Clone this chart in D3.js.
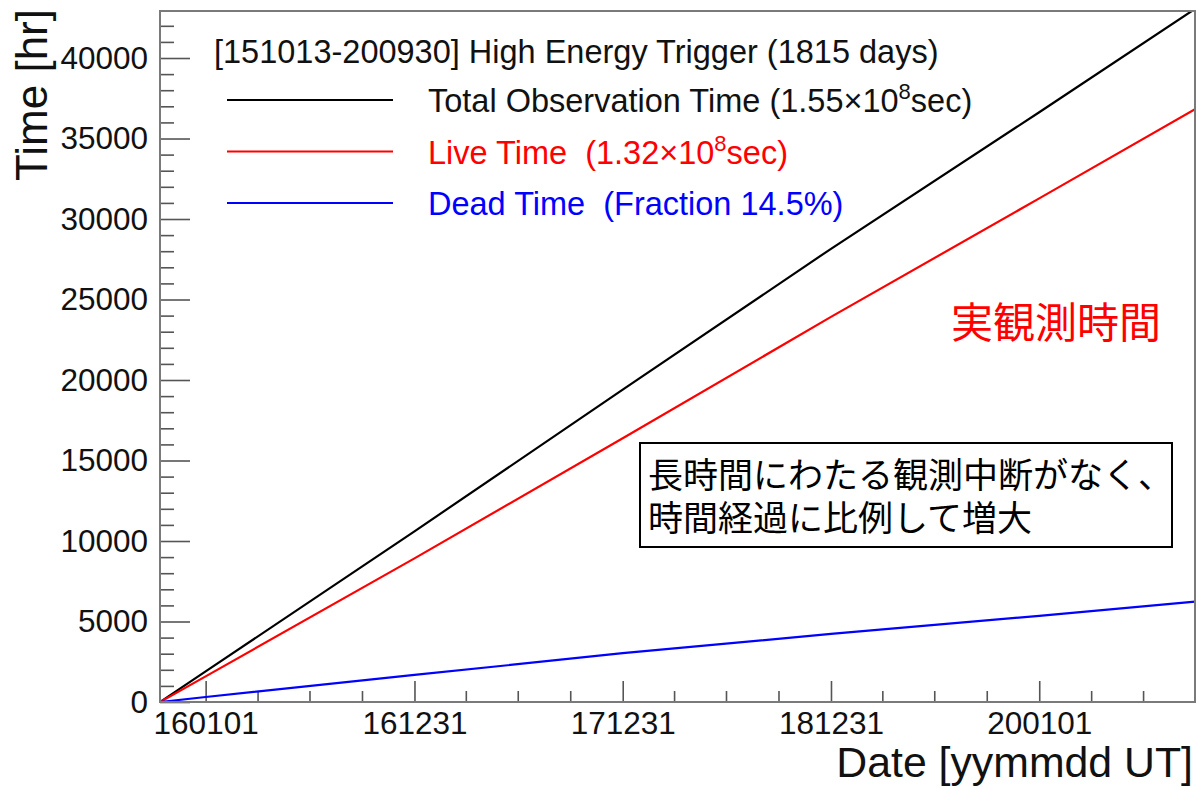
<!DOCTYPE html>
<html>
<head>
<meta charset="utf-8">
<script src="https://cdn.jsdelivr.net/npm/d3@7"></script>
<style>
  html, body { margin: 0; padding: 0; background: #fff; }
  svg { display: block; }
  text { font-family: "Liberation Sans", Arial, Helvetica, sans-serif; white-space: pre; }
  .jp { font-family: "Noto Sans CJK JP", "Noto Sans CJK SC", sans-serif; }
</style>
</head>
<body>
<svg id="chart" width="1197" height="789"></svg>
<script>
// Cumulative time [hr] sampled at the start, each new year and the end of the period
const dates = ["2015-10-13", "2016-01-01", "2017-01-01", "2018-01-01", "2019-01-01", "2020-01-01", "2020-09-30"];
const totalHours = [0, 1900, 10600, 19400, 28150, 36630, 43050];
const liveHours  = [0, 1590, 8920, 16380, 23920, 31280, 36820];
const deadHours  = [0, 310, 1680, 3030, 4230, 5350, 6230];

// Axis settings
const xRange = ["2015-10-13", "2020-09-30"];
const xTickDates = ["2016-01-01", "2017-01-01", "2018-01-01", "2019-01-01", "2020-01-01"];
const xTickLabels = ["160101", "161231", "171231", "181231", "200101"];
const yMax = 42920;
const yMajorTicks = [0, 5000, 10000, 15000, 20000, 25000, 30000, 35000, 40000];

// Legend entries
const legendTitle = "[151013-200930] High Energy Trigger (1815 days)";
const seriesNames = ["Total Observation Time (1.55\u00d710", "Live Time  (1.32\u00d710", "Dead Time  (Fraction 14.5%)"];
const seriesSup = ["8", "8", ""];
const seriesTail = ["sec)", "sec)", ""];
const seriesColors = ["#000000", "#ff0000", "#0000ff"];
const seriesValues = [totalHours, liveHours, deadHours];

const parse = d3.utcParse("%Y-%m-%d");
const svg = d3.select("#chart");

const plotLeft = 160, plotRight = 1195, plotTop = 11, plotBottom = 702;

const x = d3.scaleUtc().domain(xRange.map(parse)).range([plotLeft, plotRight]);
const y = d3.scaleLinear().domain([0, yMax]).range([plotBottom, plotTop]);

// Clip region for the curves
svg.append("defs").append("clipPath").attr("id", "plotArea")
  .append("rect").attr("x", plotLeft).attr("y", plotTop)
  .attr("width", plotRight - plotLeft).attr("height", plotBottom - plotTop);

// Y axis: major + minor ticks pointing inward
const yMinor = d3.range(0, yMax, 1000).filter(v => v % 5000 !== 0);
const yAxisMinor = svg.append("g").attr("transform", `translate(${plotLeft},0)`)
  .call(d3.axisLeft(y).tickValues(yMinor).tickSizeInner(-14).tickSizeOuter(0).tickFormat(""));
const yAxis = svg.append("g").attr("transform", `translate(${plotLeft},0)`)
  .call(d3.axisLeft(y).tickValues(yMajorTicks).tickSizeInner(-30).tickSizeOuter(0)
    .tickPadding(12).tickFormat(d3.format("d")));

// X axis: yearly major ticks, quarterly minor ticks
const majorDates = xTickDates.map(parse);
const minorDates = d3.utcMonth.every(3).range(...xRange.map(parse))
  .filter(d => !majorDates.some(m => +m === +d));
const xAxisMinor = svg.append("g").attr("transform", `translate(0,${plotBottom})`)
  .call(d3.axisBottom(x).tickValues(minorDates).tickSizeInner(-11).tickSizeOuter(0).tickFormat(""));
const xAxis = svg.append("g").attr("transform", `translate(0,${plotBottom})`)
  .call(d3.axisBottom(x).tickValues(majorDates).tickSizeInner(-21).tickSizeOuter(0)
    .tickPadding(10).tickFormat((d, i) => xTickLabels[i]));

[yAxisMinor, yAxis, xAxisMinor, xAxis].forEach(g => {
  g.select(".domain").remove();
  g.selectAll(".tick line").attr("stroke", "#555").attr("stroke-width", 1.6);
  g.selectAll(".tick text").attr("fill", "#111").style("font-size", "31.5px")
    .style("font-family", "'Liberation Sans', Arial, sans-serif");
});

// Curves
const line = d3.line().x(d => x(d[0])).y(d => y(d[1]));
seriesValues.forEach((vals, i) => {
  svg.append("path")
    .datum(dates.map((d, j) => [parse(d), vals[j]]))
    .attr("clip-path", "url(#plotArea)")
    .attr("fill", "none")
    .attr("stroke", seriesColors[i])
    .attr("stroke-width", 2.2)
    .attr("d", line);
});

// Frame
svg.append("rect").attr("x", plotLeft).attr("y", plotTop)
  .attr("width", plotRight - plotLeft).attr("height", plotBottom - plotTop)
  .attr("fill", "none").attr("stroke", "#7a7a7a").attr("stroke-width", 2);

// Axis titles
svg.append("text").attr("x", 1193).attr("y", 777).attr("text-anchor", "end")
  .style("font-size", "42.8px").attr("fill", "#111").text("Date [yymmdd UT]");
svg.append("text").attr("transform", "translate(47,9) rotate(-90)").attr("text-anchor", "end")
  .style("font-size", "44px").attr("fill", "#111").text("Time [hr]");

// Legend
svg.append("text").attr("x", 214).attr("y", 63)
  .style("font-size", "32.5px").attr("fill", "#111").text(legendTitle);
seriesNames.forEach((name, i) => {
  const yy = 100 + i * 51.5;
  svg.append("line").attr("x1", 227).attr("x2", 393).attr("y1", yy).attr("y2", yy)
    .attr("stroke", seriesColors[i]).attr("stroke-width", 2.2);
  const t = svg.append("text").attr("x", 428).attr("y", yy + 12)
    .style("font-size", "32.5px").attr("fill", seriesColors[i] === "#000000" ? "#111" : seriesColors[i]);
  t.append("tspan").text(name);
  if (seriesSup[i]) {
    t.append("tspan").attr("dy", -13).style("font-size", "22px").text(seriesSup[i]);
    t.append("tspan").attr("dy", 13).text(seriesTail[i]);
  }
});

// Annotations
svg.append("text").attr("class", "jp").attr("x", 951).attr("y", 338)
  .style("font-size", "42px").attr("fill", "#ff0000").text("実観測時間");

svg.append("rect").attr("x", 640).attr("y", 443).attr("width", 532).attr("height", 104)
  .attr("fill", "#fff").attr("stroke", "#000").attr("stroke-width", 2);
const note = ["長時間にわたる観測中断がなく、", "時間経過に比例して増大"];
const noteText = svg.append("text").attr("class", "jp")
  .style("font-size", "35px").attr("fill", "#000");
note.forEach((s, i) => {
  noteText.append("tspan").attr("x", 648).attr("y", 488 + i * 43).text(s);
});
</script>
</body>
</html>
